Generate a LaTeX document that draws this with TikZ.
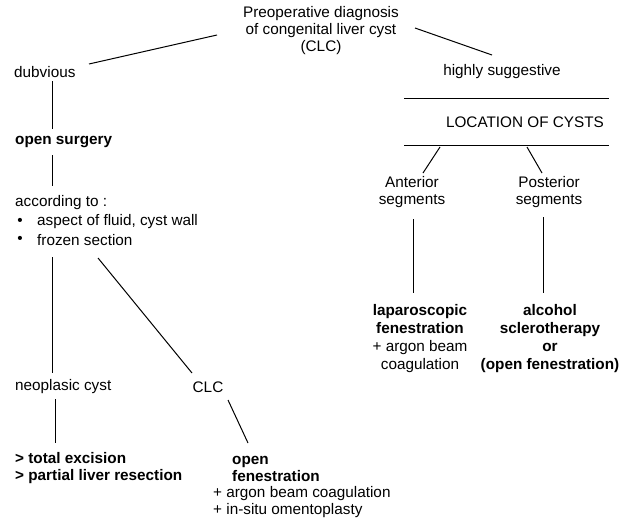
\documentclass[tikz,border=0pt]{standalone}
\usepackage{fontspec}
\setmainfont{Liberation Sans}
\begin{document}
\begin{tikzpicture}[x=1pt,y=-1pt,
  every node/.style={inner sep=0pt, font=\fontsize{15.3}{17}\selectfont},
  lft/.style={anchor=west, align=left},
  ctr/.style={align=center},
  bld/.style={font=\fontsize{15.3}{17}\selectfont\bfseries},
  wide/.style={font=\fontsize{15.3}{18}\selectfont},
  widebold/.style={font=\fontsize{15.3}{18}\selectfont\bfseries},
  conn/.style={line width=1pt}]
\useasboundingbox (0,0) rectangle (635,525);

% nodes
\node[ctr] (top) at (321,31) {Preoperative diagnosis\\of congenital liver cyst\\(CLC)};
\node[lft] (dub) at (14,72) {dubvious};
\node (hs) at (502,72) {highly suggestive};
\node (loc) at (525,122) {LOCATION OF CYSTS};
\node[lft,bld] (os) at (15,142) {open surgery};
\node[lft] (acc) at (15,203) {according to :};
\node (bul1) at (20,222) {\textbullet};
\node[lft] (it1) at (37,222) {aspect of fluid, cyst wall};
\node (bul2) at (20,240) {\textbullet};
\node[lft] (it2) at (37,240) {frozen section};
\node[lft] (neo) at (15,387) {neoplasic cyst};
\node (clc) at (208,387) {CLC};
\node[lft,bld] (tot) at (15,468.5) {> total excision\\> partial liver resection};
\node[lft,bld] (ofen) at (232,468.5) {open\\fenestration};
\node[lft] (oadd) at (213,502.5) {+ argon beam coagulation\\+ in-situ omentoplasty};
\node[ctr] (ant) at (412,192.5) {Anterior\\segments};
\node[ctr] (post) at (549,192.5) {Posterior\\segments};
\node[ctr,wide] (lap) at (420,339) {\textbf{laparoscopic}\\\textbf{fenestration}\\+ argon beam\\coagulation};
\node[ctr,widebold] (alc) at (550,339) {alcohol\\sclerotherapy\\or\\(open fenestration)};

% connector end points
\coordinate (c1a) at (217,35);  \coordinate (c1b) at (89,64);
\coordinate (c2a) at (415,28);  \coordinate (c2b) at (492,55);
\coordinate (c3a) at (52,81);   \coordinate (c3b) at (52,129);
\coordinate (c4a) at (52,155);  \coordinate (c4b) at (52,186);
\coordinate (c5a) at (52,257);  \coordinate (c5b) at (52,373);
\coordinate (c6a) at (98,258);  \coordinate (c6b) at (192,373);
\coordinate (c7a) at (55,399);  \coordinate (c7b) at (55,443);
\coordinate (c8a) at (228,400); \coordinate (c8b) at (248,443);
\coordinate (r1a) at (404,98);  \coordinate (r1b) at (609,98);
\coordinate (r2a) at (404,145); \coordinate (r2b) at (609,145);
\coordinate (c9a) at (440,147); \coordinate (c9b) at (423,173);
\coordinate (c10a) at (527,147); \coordinate (c10b) at (542,173);
\coordinate (c11a) at (413,219); \coordinate (c11b) at (413,293);
\coordinate (c12a) at (543,217); \coordinate (c12b) at (543,293);

\draw[conn] (c1a) -- (c1b);
\draw[conn] (c2a) -- (c2b);
\draw[conn] (c3a) -- (c3b);
\draw[conn] (c4a) -- (c4b);
\draw[conn] (c5a) -- (c5b);
\draw[conn] (c6a) -- (c6b);
\draw[conn] (c7a) -- (c7b);
\draw[conn] (c8a) -- (c8b);
\draw[conn] (r1a) -- (r1b);
\draw[conn] (r2a) -- (r2b);
\draw[conn] (c9a) -- (c9b);
\draw[conn] (c10a) -- (c10b);
\draw[conn] (c11a) -- (c11b);
\draw[conn] (c12a) -- (c12b);
\end{tikzpicture}
\end{document}
